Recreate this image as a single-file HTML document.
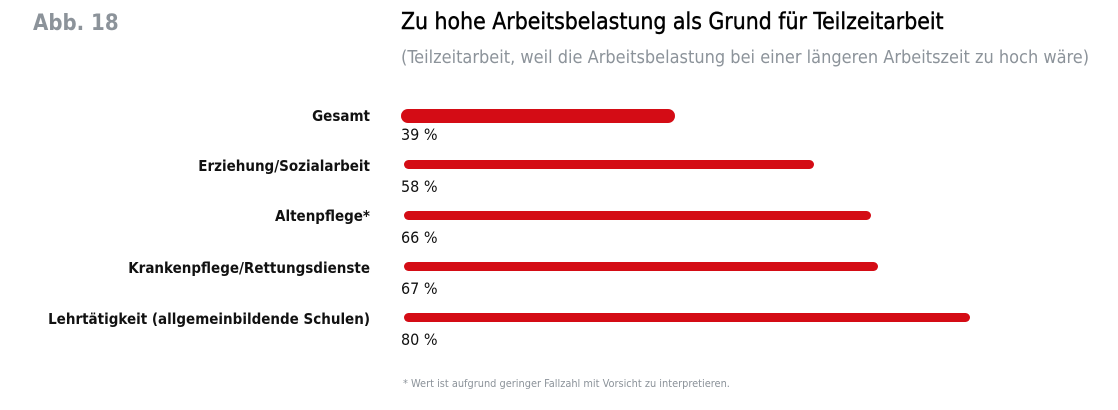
<!DOCTYPE html>
<html><head><meta charset="utf-8"><style>
body{margin:0;width:1118px;height:410px;background:#fff;font-family:"DejaVu Sans Condensed","Liberation Sans",sans-serif;position:relative;overflow:hidden}
.a{position:absolute;white-space:nowrap}
.lab{right:748px;font-weight:bold;font-size:15px;color:#111;line-height:18px}
.pct{left:401px;font-size:16px;color:#111;line-height:18px}
.bar{position:absolute;background:#d40c15;border-radius:6px}
</style></head><body>
<div class="a" style="left:33px;top:11px;font-size:22px;font-weight:bold;color:#8c939a">Abb. 18</div>
<div class="a" style="left:401px;top:9px;font-size:22.8px;color:#000;-webkit-text-stroke:0.4px #000">Zu hohe Arbeitsbelastung als Grund für Teilzeitarbeit</div>
<div class="a" style="left:401px;top:47px;font-size:18px;color:#8c939a">(Teilzeitarbeit, weil die Arbeitsbelastung bei einer längeren Arbeitszeit zu hoch wäre)</div>

<div class="a lab" style="top:107px">Gesamt</div>
<div class="bar" style="left:401px;top:109px;width:274px;height:14px;border-radius:7px"></div>
<div class="a pct" style="top:126px">39 %</div>

<div class="a lab" style="top:157px">Erziehung/Sozialarbeit</div>
<div class="bar" style="left:404px;top:160px;width:410px;height:9px"></div>
<div class="a pct" style="top:178px">58 %</div>

<div class="a lab" style="top:207px">Altenpflege*</div>
<div class="bar" style="left:404px;top:211px;width:467px;height:9px"></div>
<div class="a pct" style="top:229px">66 %</div>

<div class="a lab" style="top:259px">Krankenpflege/Rettungsdienste</div>
<div class="bar" style="left:404px;top:262px;width:474px;height:9px"></div>
<div class="a pct" style="top:280px">67 %</div>

<div class="a lab" style="top:310px">Lehrtätigkeit (allgemeinbildende Schulen)</div>
<div class="bar" style="left:404px;top:313px;width:566px;height:9px"></div>
<div class="a pct" style="top:331px">80 %</div>

<div class="a" style="left:403px;top:377px;font-size:10.9px;color:#8c939a">* Wert ist aufgrund geringer Fallzahl mit Vorsicht zu interpretieren.</div>
</body></html>
